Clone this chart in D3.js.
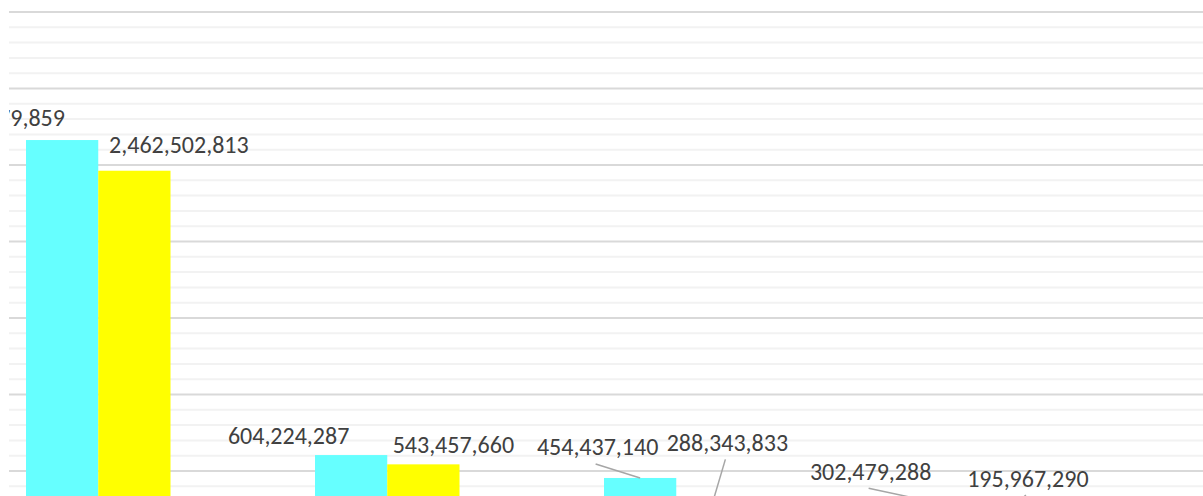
<!DOCTYPE html>
<html>
<head>
<meta charset="utf-8">
<script src="https://cdn.jsdelivr.net/npm/d3@7"></script>
<style>
  html, body { margin: 0; padding: 0; background: #fff; overflow: hidden; }
  svg { display: block; }
</style>
</head>
<body>
<div id="chart"></div>
<script>
// Data (category axis is cropped out of view)
const categories = ["1", "2", "3", "4"];
const seriesNames = ["Series 1", "Series 2"];
const series1 = [2663179859, 604224287, 454437140, 302479288];
const series2 = [2462502813, 543457660, 288343833, 195967290];
const yTicks = d3.range(0, 3500000001, 100000000);

// Label placement relative to the top-centre of each bar (layout only)
const labelOffsets = [
    [{ dx: -67, dy: -23, leader: false }, { dx: 44.5, dy: -26, leader: false }],
    [{ dx: -62.5, dy: -20, leader: false }, { dx: 30, dy: -20, leader: false }],
    [{ dx: -42.5, dy: -31, leader: true }, { dx: 15, dy: -61, leader: true }],
    [{ dx: -58.5, dy: -30, leader: true }, { dx: 26.5, dy: -39.5, leader: true }]
];

const width = 1203, height = 496;
const colors = ["#66ffff", "#ffff00"];
const step = 289;
const gridLeft = 9;

const svg = d3.select("#chart")
    .append("svg")
    .attr("width", width)
    .attr("height", height);

// chart area starts at x = 9, anything left of that is cut away
svg.append("defs")
    .append("clipPath")
    .attr("id", "chart-area")
    .append("rect")
    .attr("x", gridLeft)
    .attr("y", 0)
    .attr("width", width - gridLeft)
    .attr("height", height);

// Value axis: 0 sits below the visible crop
const y = d3.scaleLinear()
    .domain([0, 3500000000])
    .range([547.5, 12]);

const x = d3.scaleBand()
    .domain(categories)
    .range([-46.25, -46.25 + categories.length * step])
    .paddingInner(0.5)
    .paddingOuter(0.25);

const xSub = d3.scaleBand()
    .domain(seriesNames)
    .range([0, x.bandwidth()]);

// Gridlines: major every 500M, minor every 100M
svg.append("g")
    .selectAll("line")
    .data(yTicks)
    .enter()
    .append("line")
    .attr("x1", gridLeft)
    .attr("x2", width)
    .attr("y1", d => y(d))
    .attr("y2", d => y(d))
    .attr("stroke", d => d % 500000000 === 0 ? "#d9d9d9" : "#f2f2f2")
    .attr("stroke-width", 2);

const rows = categories.map((c, i) => ({
    cat: c,
    values: [series1[i], series2[i]]
}));

const groups = svg.append("g")
    .selectAll("g")
    .data(rows)
    .enter()
    .append("g")
    .attr("transform", d => `translate(${x(d.cat)},0)`);

groups.selectAll("rect")
    .data(d => d.values.map((v, j) => ({ v, name: seriesNames[j], j })))
    .enter()
    .append("rect")
    .attr("x", d => xSub(d.name))
    .attr("width", xSub.bandwidth())
    .attr("y", d => y(d.v))
    .attr("height", d => y(0) - y(d.v))
    .attr("fill", d => colors[d.j]);

// Data labels with leader lines
const fmt = d3.format(",");
const labels = [];
rows.forEach((r, i) => {
    r.values.forEach((v, j) => {
        const bx = x(r.cat) + xSub(seriesNames[j]) + xSub.bandwidth() / 2;
        const by = y(v);
        const o = labelOffsets[i][j];
        labels.push({ v, bx, by, cx: bx + o.dx, cy: by + o.dy, leader: o.leader });
    });
});

const labelGroup = svg.append("g")
    .attr("clip-path", "url(#chart-area)");

labelGroup.selectAll("line")
    .data(labels.filter(d => d.leader))
    .enter()
    .append("line")
    .attr("x1", d => d.cx - 2)
    .attr("y1", d => d.cy + 17)
    .attr("x2", d => d.bx)
    .attr("y2", d => d.by)
    .attr("stroke", "#a6a6a6")
    .attr("stroke-width", 1.5);

labelGroup.selectAll("text")
    .data(labels)
    .enter()
    .append("text")
    .attr("x", d => d.cx)
    .attr("y", d => d.cy)
    .attr("text-anchor", "middle")
    .attr("dominant-baseline", "central")
    .style("font-family", "Carlito, Calibri, 'Open Sans', sans-serif")
    .style("font-size", "24px")
    .style("fill", "#404040")
    .text(d => fmt(d.v));
</script>
</body>
</html>
